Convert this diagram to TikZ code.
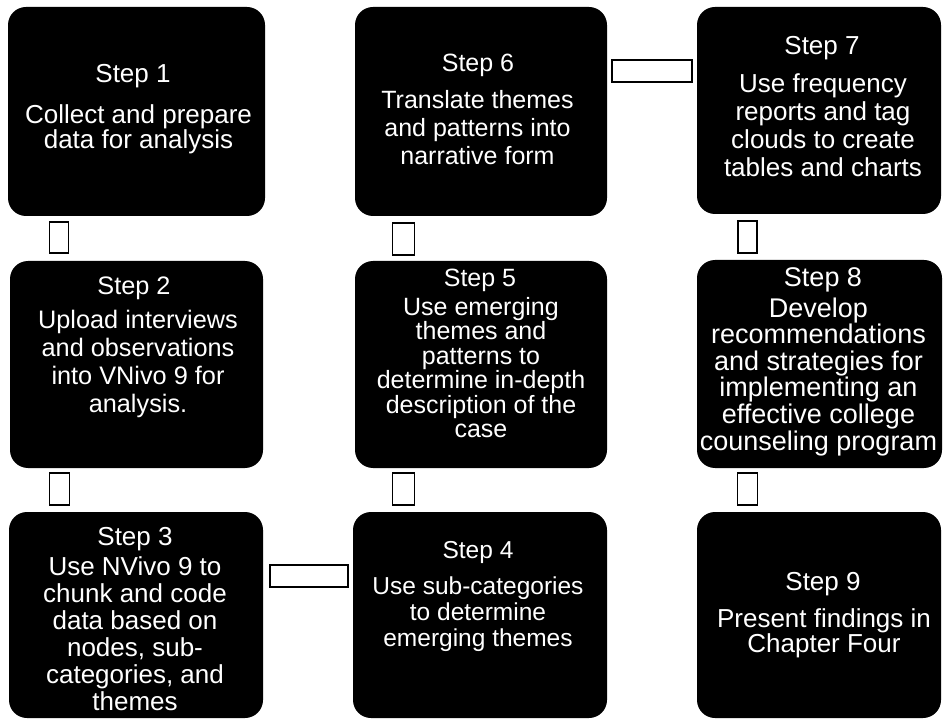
\documentclass[tikz,border=0pt]{standalone}
\usepackage{fontspec}
\setmainfont{Liberation Sans}
\newcommand\stepfont[2]{\fontsize{#1}{#2}\selectfont}
\begin{document}
\begin{tikzpicture}[x=1pt,y=-1pt,
  stepbox/.style={fill=black, draw=none, rounded corners=18pt, inner sep=0pt},
  steptitle/.style={text=white, anchor=base, inner sep=0pt},
  stepbody/.style={text=white, anchor=north, inner sep=0pt, align=center},
  link/.style={draw=black, fill=white, line width=1.6pt, inner sep=0pt}]
\useasboundingbox (0,0) rectangle (943,719);

% step boxes, three columns by three rows
\node[stepbox, minimum width=257pt, minimum height=209pt] (b1) at (136.5,111.5) {};
\node[stepbox, minimum width=253pt, minimum height=207pt] (b2) at (136.5,364.5) {};
\node[stepbox, minimum width=254pt, minimum height=206pt] (b3) at (136,615) {};
\node[stepbox, minimum width=254pt, minimum height=206pt] (b4) at (480,615) {};
\node[stepbox, minimum width=252pt, minimum height=207pt] (b5) at (481,364.5) {};
\node[stepbox, minimum width=252pt, minimum height=209pt] (b6) at (481,111.5) {};
\node[stepbox, minimum width=244pt, minimum height=207pt] (b7) at (819,110.5) {};
\node[stepbox, minimum width=245pt, minimum height=208pt] (b8) at (819.5,364) {};
\node[stepbox, minimum width=244pt, minimum height=206pt] (b9) at (819,615) {};

% step titles
\node[steptitle, font=\stepfont{26}{28}] (t1) at (133,83) {Step 1};
\node[steptitle, font=\stepfont{25.3}{28}] (t2) at (134,295) {Step 2};
\node[steptitle, font=\stepfont{26}{28}] (t3) at (135,545) {Step 3};
\node[steptitle, font=\stepfont{24.5}{28}] (t4) at (478,558) {Step 4};
\node[steptitle, font=\stepfont{25}{28}] (t5) at (480,287) {Step 5};
\node[steptitle, font=\stepfont{25}{28}] (t6) at (478,72) {Step 6};
\node[steptitle, font=\stepfont{26}{28}] (t7) at (822,55) {Step 7};
\node[steptitle, font=\stepfont{27}{28}] (t8) at (823,287) {Step 8};
\node[steptitle, font=\stepfont{26}{28}] (t9) at (823,590) {Step 9};

% step descriptions
\node[stepbody, font=\stepfont{26}{24}] (d1) at (138.5,104)
  {Collect and prepare\\data for analysis};
\node[stepbody, font=\stepfont{25.3}{28}] (d2) at (138,309.5)
  {Upload interviews\\and observations\\into VNivo 9 for\\analysis.};
\node[stepbody, font=\stepfont{26}{27}] (d3) at (135,556)
  {Use NVivo 9 to\\chunk and code\\data based on\\nodes, sub-\\categories, and\\themes};
\node[stepbody, font=\stepfont{24.5}{26}] (d4) at (478,577)
  {Use sub-categories\\to determine\\emerging themes};
\node[stepbody, font=\stepfont{25}{24.5}] (d5) at (481,296.7)
  {Use emerging\\themes and\\patterns to\\determine in-depth\\description of the\\case};
\node[stepbody, font=\stepfont{25}{28}] (d6) at (477.5,89.7)
  {Translate themes\\and patterns into\\narrative form};
\node[stepbody, font=\stepfont{26}{28}] (d7) at (823,73)
  {Use frequency\\reports and tag\\clouds to create\\tables and charts};
\node[stepbody, font=\stepfont{27}{26.6}] (d8) at (818.5,297.3)
  {Develop\\recommendations\\and strategies for\\implementing an\\effective college\\counseling program};
\node[stepbody, font=\stepfont{26}{25}] (d9) at (824,608)
  {Present findings in\\Chapter Four};

% link markers between consecutive steps
\node[link, minimum width=19pt, minimum height=31pt] (c12) at (59,237.5) {};
\node[link, minimum width=20pt, minimum height=32pt] (c23) at (59.5,489) {};
\node[link, minimum width=78pt, minimum height=22pt] (c34) at (309,576) {};
\node[link, minimum width=22pt, minimum height=32pt] (c45) at (403.5,489) {};
\node[link, minimum width=22pt, minimum height=32pt] (c56) at (403.5,239) {};
\node[link, minimum width=80pt, minimum height=22pt] (c67) at (652,71) {};
\node[link, minimum width=19pt, minimum height=32pt] (c78) at (747.5,237) {};
\node[link, minimum width=20pt, minimum height=32pt] (c89) at (747.5,489) {};
\end{tikzpicture}
\end{document}
